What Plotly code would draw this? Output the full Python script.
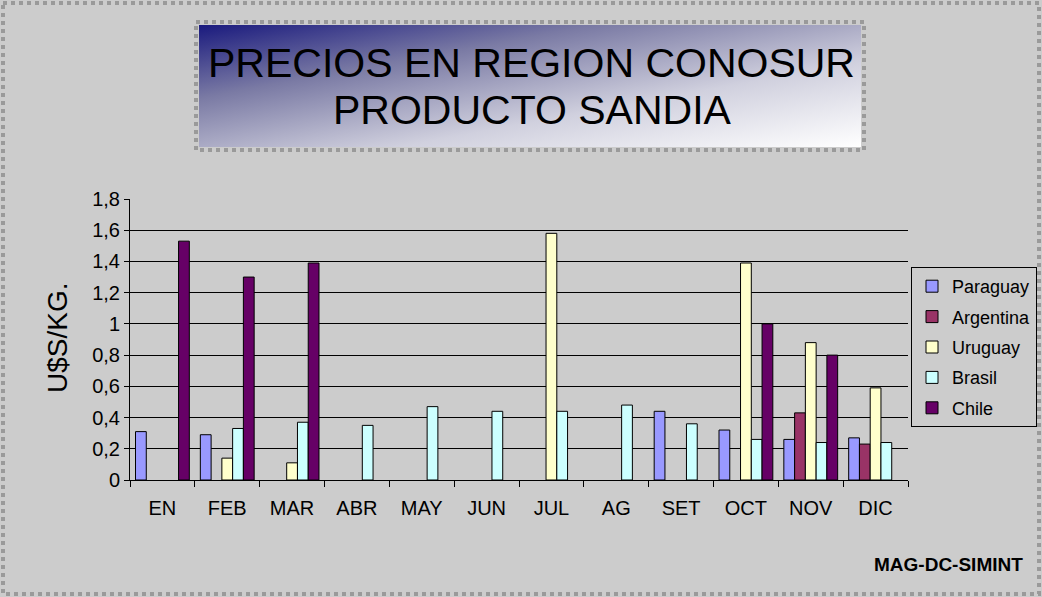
import base64
import plotly.graph_objects as go

# data (None = no bar)
meses = ["EN", "FEB", "MAR", "ABR", "MAY", "JUN", "JUL", "AG", "SET", "OCT", "NOV", "DIC"]
paraguay = [0.31, 0.29, None, None, None, None, None, None, 0.44, 0.32, 0.26, 0.27]
argentina = [None, None, None, None, None, None, None, None, None, None, 0.43, 0.23]
uruguay = [None, 0.14, 0.11, None, None, None, 1.58, None, None, 1.39, 0.88, 0.59]
brasil = [None, 0.33, 0.37, 0.35, 0.47, 0.44, 0.44, 0.48, 0.36, 0.26, 0.24, 0.24]
chile = [1.53, 1.30, 1.39, None, None, None, None, None, None, 1.00, 0.80, None]
y_ticks = [0, 0.2, 0.4, 0.6, 0.8, 1, 1.2, 1.4, 1.6, 1.8]

W, H = 1042, 597
L, R, T, B = 130, 908, 199, 480   # plot area in pixels
FONT = "Liberation Sans, Arial, sans-serif"
BG = "#CCCCCC"


def px2x(px):
    return (px - L) / (R - L)


def py2y(py):
    return (B - py) / (B - T)


series = [
    ("Paraguay", paraguay, "#9999FF"),
    ("Argentina", argentina, "#993366"),
    ("Uruguay", uruguay, "#FFFFCC"),
    ("Brasil", brasil, "#CCFFFF"),
    ("Chile", chile, "#660066"),
]

fig = go.Figure()
for name, vals, col in series:
    fig.add_trace(go.Bar(
        x=meses, y=vals, name=name, legendgroup=name,
        marker=dict(color=col, line=dict(color="#000000", width=1)),
    ))

# gradient for the title box
svg = (
    '<svg xmlns="http://www.w3.org/2000/svg" width="660" height="122" preserveAspectRatio="none">'
    '<defs><linearGradient id="g" x1="0" y1="0" x2="1" y2="1">'
    '<stop offset="0" stop-color="#1A1A7E"/>'
    '<stop offset="0.3" stop-color="#7A7AA4"/>'
    '<stop offset="0.65" stop-color="#D0D0DE"/>'
    '<stop offset="1" stop-color="#FFFFFF"/>'
    '</linearGradient></defs>'
    '<rect width="660" height="122" fill="url(#g)"/></svg>'
)
src = "data:image/svg+xml;base64," + base64.b64encode(svg.encode()).decode()
fig.add_layout_image(dict(
    source=src, xref="paper", yref="paper",
    x=px2x(199), y=py2y(25), sizex=px2x(861) - px2x(199), sizey=py2y(25) - py2y(147),
    xanchor="left", yanchor="top", sizing="stretch", layer="below",
))

# dotted frames (title box + whole chart)
fig.add_shape(type="rect", xref="paper", yref="paper",
              x0=px2x(196), x1=px2x(864), y0=py2y(22), y1=py2y(150),
              line=dict(color="#9A9A9A", width=4, dash="dot"))
fig.add_shape(type="rect", xref="paper", yref="paper",
              x0=px2x(3), x1=px2x(1039), y0=py2y(3), y1=py2y(594),
              line=dict(color="#9A9A9A", width=4, dash="dot"))

fig.add_annotation(text="PRECIOS EN REGION CONOSUR", xref="paper", yref="paper",
                   x=px2x(531), y=py2y(63), xanchor="center", yanchor="middle", showarrow=False,
                   font=dict(family=FONT, size=41, color="#000000"))
fig.add_annotation(text="PRODUCTO SANDIA", xref="paper", yref="paper",
                   x=px2x(532), y=py2y(110), xanchor="center", yanchor="middle", showarrow=False,
                   font=dict(family=FONT, size=41, color="#000000"))
fig.add_annotation(text="U$S/KG.", xref="paper", yref="paper",
                   x=px2x(57), y=py2y(338), xanchor="center", yanchor="middle",
                   showarrow=False, textangle=-90,
                   font=dict(family=FONT, size=28, color="#000000"))
fig.add_annotation(text="<b>MAG-DC-SIMINT</b>", xref="paper", yref="paper",
                   x=px2x(1025), y=py2y(564), xanchor="right", yanchor="middle", showarrow=False,
                   font=dict(family=FONT, size=19, color="#000000"))

fig.update_layout(
    width=W, height=H,
    margin=dict(l=L, r=W - R, t=T, b=H - B, autoexpand=False),
    paper_bgcolor=BG, plot_bgcolor=BG,
    barmode="group", bargap=0.17, bargroupgap=0,
    separators=",.",
    font=dict(family=FONT, size=20, color="#000000"),
    showlegend=True,
    legend=dict(
        x=px2x(911), y=py2y(267), xanchor="left", yanchor="top",
        bgcolor=BG, bordercolor="#000000", borderwidth=1,
        font=dict(family=FONT, size=18, color="#000000"),
        tracegroupgap=4, itemwidth=30,
    ),
)
fig.update_xaxes(
    type="category", showgrid=False, showline=True, linecolor="#000000", linewidth=1,
    ticks="outside", tickson="boundaries", ticklen=6, tickcolor="#000000",
    ticklabelstandoff=10, tickfont=dict(size=20),
)
fig.update_yaxes(
    range=[0, 1.8], tickvals=y_ticks, showgrid=True, gridcolor="#000000", gridwidth=1,
    showline=True, linecolor="#000000", linewidth=1, zeroline=False,
    ticks="outside", ticklen=5, tickcolor="#000000", tickfont=dict(size=20),
)

fig.write_html("out.html", config={"displayModeBar": False},
               post_script="document.body.style.margin='0';")
